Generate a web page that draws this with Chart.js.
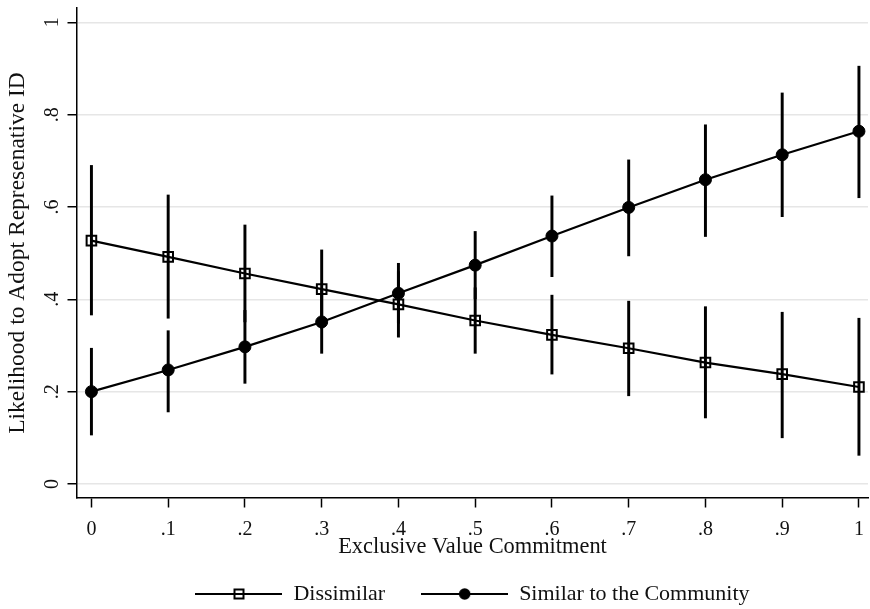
<!DOCTYPE html>
<html>
<head>
<meta charset="utf-8">
<script src="https://cdn.jsdelivr.net/npm/chart.js@4.4.0/dist/chart.umd.min.js"></script>
<style>
  html, body { margin: 0; padding: 0; background: #fff; }
</style>
</head>
<body>
<canvas id="chart" width="870" height="609"></canvas>
<script>
// --- Dados ---
const xValues = [0, .1, .2, .3, .4, .5, .6, .7, .8, .9, 1];
const xTickLabels = ['0', '.1', '.2', '.3', '.4', '.5', '.6', '.7', '.8', '.9', '1'];
const yTicks = [0, .2, .4, .6, .8, 1];
const yTickLabels = ['0', '.2', '.4', '.6', '.8', '1'];

const dissimilarMean = [.527, .492, .456, .422, .389, .354, .323, .294, .263, .238, .210];
const dissimilarLow  = [.366, .359, .351, .337, .318, .283, .238, .191, .143, .100, .062];
const dissimilarHigh = [.690, .626, .561, .507, .460, .425, .409, .396, .384, .372, .359];

const similarMean = [.200, .247, .297, .351, .413, .474, .537, .599, .659, .713, .764];
const similarLow  = [.106, .156, .218, .283, .348, .401, .449, .494, .536, .579, .620];
const similarHigh = [.294, .332, .376, .419, .478, .547, .624, .702, .778, .847, .905];

const serif = "'Liberation Serif', 'Times New Roman', serif";
Chart.defaults.font.family = serif;
Chart.defaults.color = '#111';

// Ícone da legenda: linha com o marcador no meio
function legendIcon(style) {
    const c = document.createElement('canvas');
    c.width = 87; c.height = 16;
    const g = c.getContext('2d');
    g.strokeStyle = '#000';
    g.lineWidth = 2.2;
    g.beginPath(); g.moveTo(0, 8); g.lineTo(87, 8); g.stroke();
    g.lineWidth = 2;
    if (style === 'rect') {
        g.strokeRect(39, 3.5, 9, 9);
    } else {
        g.fillStyle = '#000';
        g.beginPath(); g.arc(43.5, 8, 5.8, 0, Math.PI * 2); g.fill();
    }
    return c;
}

const pts = (ys) => xValues.map((x, i) => ({ x, y: ys[i] }));
const ranges = (lo, hi) => xValues.map((x, i) => ({ x, y: [lo[i], hi[i]] }));

new Chart(document.getElementById('chart'), {
    type: 'line',
    data: {
        datasets: [
            {
                type: 'line', label: 'Dissimilar', data: pts(dissimilarMean),
                borderColor: '#000', borderWidth: 2.2, tension: 0, fill: false,
                pointStyle: 'rect', pointRadius: 6.8, pointBorderWidth: 2,
                pointBackgroundColor: 'rgba(0,0,0,0)', pointBorderColor: '#000', order: 1
            },
            {
                type: 'line', label: 'Similar to the Community', data: pts(similarMean),
                borderColor: '#000', borderWidth: 2.2, tension: 0, fill: false,
                pointStyle: 'circle', pointRadius: 6, pointBorderWidth: 1,
                pointBackgroundColor: '#000', pointBorderColor: '#000', order: 1
            },
            // Intervalos de confiança como barras flutuantes finas
            {
                type: 'bar', label: 'ci-dis', data: ranges(dissimilarLow, dissimilarHigh),
                backgroundColor: '#000', borderWidth: 0, grouped: false,
                barThickness: 2.3, maxBarThickness: 2.3, order: 2
            },
            {
                type: 'bar', label: 'ci-sim', data: ranges(similarLow, similarHigh),
                backgroundColor: '#000', borderWidth: 0, grouped: false,
                barThickness: 2.3, maxBarThickness: 2.3, order: 2
            }
        ]
    },
    options: {
        responsive: false,
        animation: false,
        events: [],
        layout: { autoPadding: false, padding: { top: 8, right: 2, bottom: 0, left: 0 } },
        plugins: {
            tooltip: { enabled: false },
            legend: {
                position: 'bottom',
                fullSize: false,
                maxHeight: 62,
                labels: {
                    usePointStyle: true,
                    pointStyleWidth: 87,
                    padding: 36,
                    color: '#111',
                    font: { size: 22 },
                    generateLabels: chart => [0, 1].map(i => ({
                        text: chart.data.datasets[i].label,
                        pointStyle: legendIcon(i === 0 ? 'rect' : 'circle'),
                        fontColor: '#111',
                        fillStyle: 'transparent',
                        strokeStyle: 'transparent',
                        lineWidth: 0,
                        hidden: false,
                        datasetIndex: i
                    }))
                }
            }
        },
        scales: {
            x: {
                type: 'linear',
                min: -0.0188,
                max: 1.0118,
                offset: false,
                afterBuildTicks: s => { s.ticks = xValues.map(v => ({ value: v })); },
                afterFit: s => { s.height = 49; s.paddingLeft = 0; s.paddingRight = 0; },
                ticks: {
                    autoSkip: false,
                    maxRotation: 0,
                    padding: 10,
                    color: '#111',
                    font: { size: 20 },
                    callback: (v, i) => xTickLabels[i]
                },
                grid: { drawOnChartArea: false, offset: false, tickLength: 9.5, tickColor: '#000', tickWidth: 1.5 },
                border: { display: true, color: '#000', width: 1.5 },
                title: {
                    display: true,
                    text: 'Exclusive Value Commitment',
                    color: '#111',
                    font: { size: 22.4 },
                    padding: { top: 0, bottom: -14 }
                }
            },
            y: {
                type: 'linear',
                min: -0.0304,
                max: 1.031,
                afterBuildTicks: s => { s.ticks = yTicks.map(v => ({ value: v })); },
                afterFit: s => { s.width = 77; s.paddingTop = 0; s.paddingBottom = 0; },
                ticks: {
                    minRotation: 90,
                    maxRotation: 90,
                    crossAlign: 'center',
                    padding: 7.5,
                    color: '#111',
                    font: { size: 20 },
                    callback: (v, i) => yTickLabels[i]
                },
                grid: { color: '#e6e6e6', lineWidth: 1.5, tickLength: 9.5, tickColor: '#000', tickWidth: 1.5 },
                border: { display: true, color: '#000', width: 1.5 },
                title: {
                    display: true,
                    text: 'Likelihood to Adopt Represenative ID',
                    color: '#111',
                    font: { size: 23.5 },
                    padding: { top: 4, bottom: 0 }
                }
            }
        }
    }
});
</script>
</body>
</html>
